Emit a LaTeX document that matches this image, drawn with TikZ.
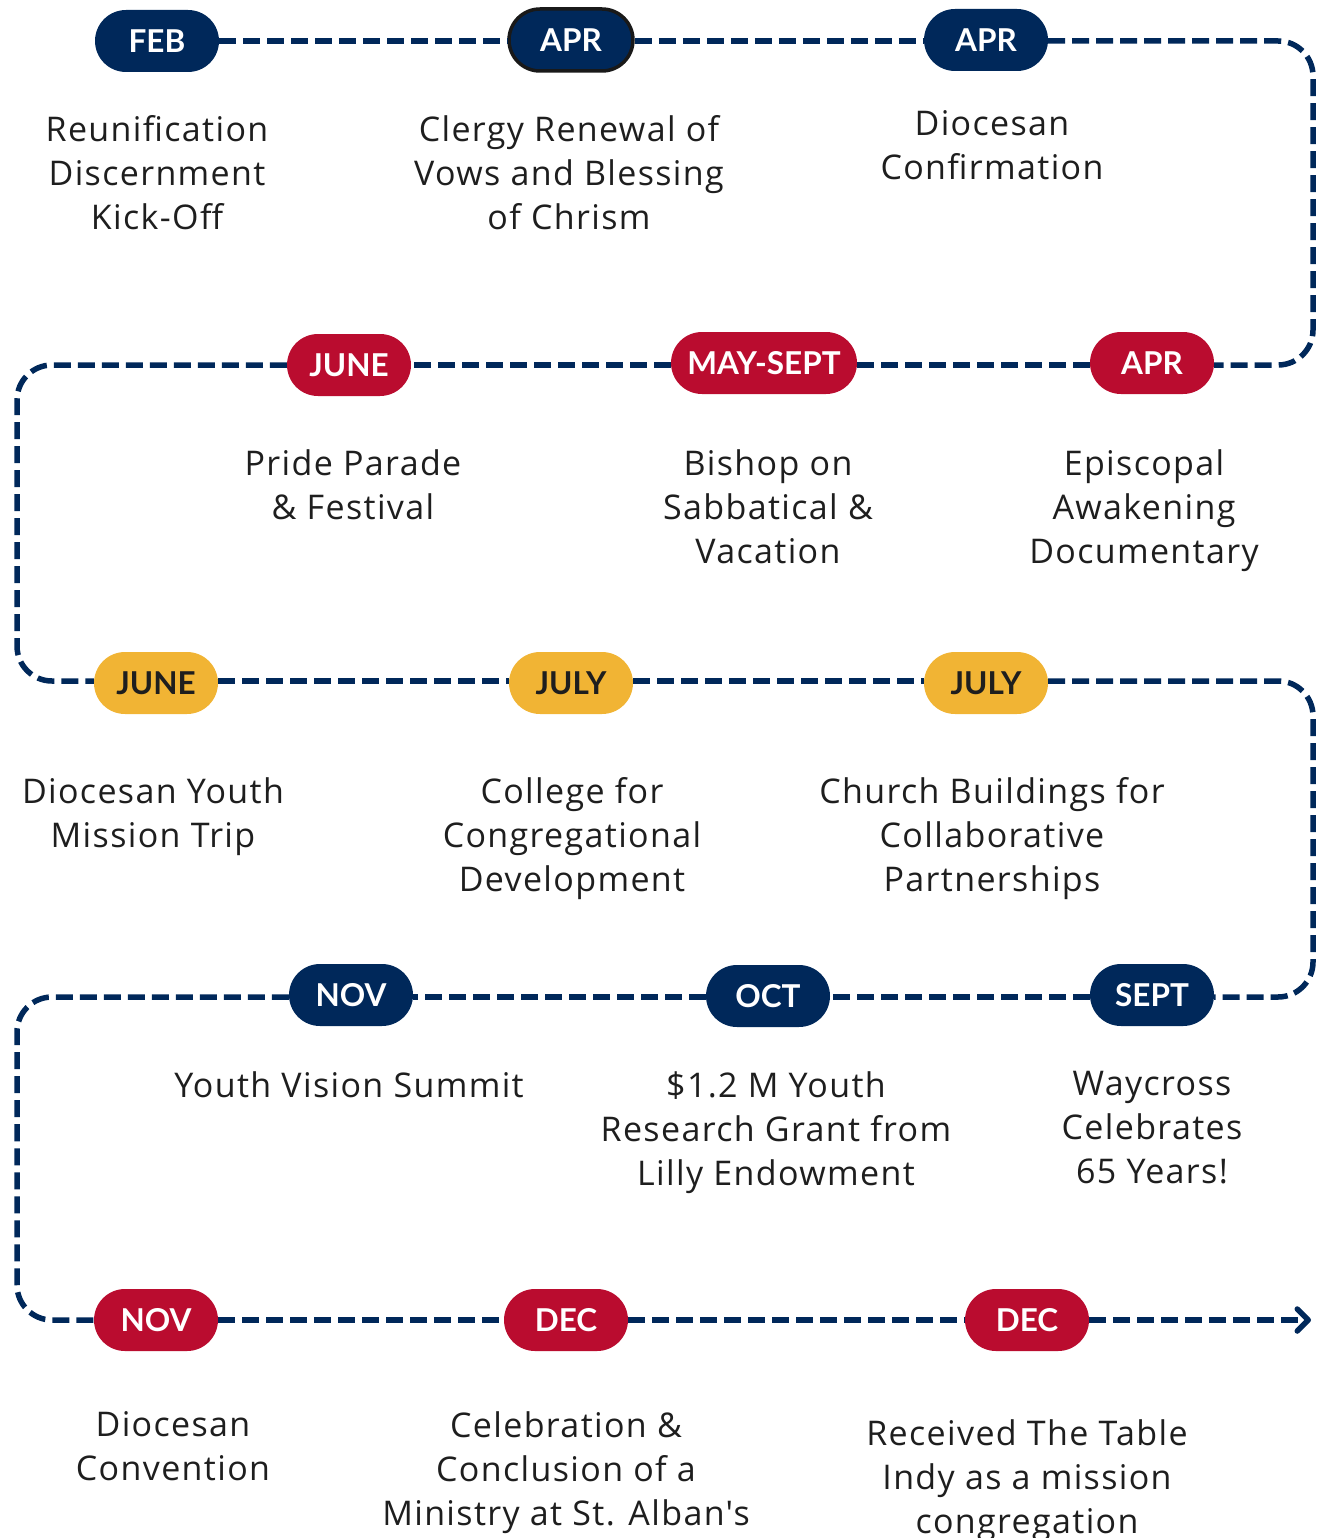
\documentclass[tikz,border=0pt]{standalone}
\usepackage{fontspec}
\setmainfont{Open Sans}
\newfontfamily\labelfont[LetterSpace=4]{Open Sans}
\newfontfamily\pillfont{Lato}
\usetikzlibrary{arrows.meta}
\definecolor{navy}{HTML}{00285A}
\definecolor{crimson}{HTML}{BA0C2F}
\definecolor{gold}{HTML}{F1B434}
\definecolor{textc}{HTML}{1E1E1E}
\tikzset{
  pill/.style={rectangle, rounded corners=31pt, minimum width=124pt, minimum height=62pt, inner sep=0pt, font=\pillfont\fontsize{31.5}{31.5}\bfseries\selectfont},
  navypill/.style={pill, fill=navy, text=white},
  redpill/.style={pill, fill=crimson, text=white},
  goldpill/.style={pill, fill=gold, text=textc},
  evlabel/.style={align=center, anchor=north, inner sep=0pt, font=\labelfont\fontsize{34}{44}\selectfont, text=textc},
  timeline/.style={draw=navy, line width=5.5pt, dash pattern=on 17pt off 7pt, rounded corners=35pt}
}
\begin{document}
\begin{tikzpicture}[x=1pt,y=-1pt]
\useasboundingbox (0,0) rectangle (1324,1538);
% corner coordinates
\coordinate (c1) at (1313,41);
\coordinate (c2) at (1313,365);
\coordinate (c3) at (17,365);
\coordinate (c4) at (17,681);
\coordinate (c5) at (1313,681);
\coordinate (c6) at (1313,997);
\coordinate (c7) at (17,997);
\coordinate (c8) at (17,1320);
\coordinate (tip) at (1311,1320);
% pills
\node[navypill] (p1) at (157,41) {FEB};
\node[navypill, draw=black!90, line width=3.5pt] (p2) at (571,40) {APR};
\node[navypill] (p3) at (986,40) {APR};
\node[redpill] (p4) at (1152,363) {APR};
\node[redpill, minimum width=186pt] (p5) at (764,363) {MAY-SEPT};
\node[redpill] (p6) at (349,365) {JUNE};
\node[goldpill] (p7) at (156,683) {JUNE};
\node[goldpill] (p8) at (571,683) {JULY};
\node[goldpill] (p9) at (986,683) {JULY};
\node[navypill] (p10) at (1152,995) {SEPT};
\node[navypill] (p11) at (768,996) {OCT};
\node[navypill] (p12) at (351,995) {NOV};
\node[redpill] (p13) at (156,1320) {NOV};
\node[redpill] (p14) at (566,1320) {DEC};
\node[redpill] (p15) at (1027,1320) {DEC};
% connectors
\draw[timeline] (p1.east |- 0,41) -- (p2.west |- 0,41);
\draw[timeline] (p2.east |- 0,41) -- (p3.west |- 0,41);
\draw[timeline] (p3.east |- 0,41) -- (c1) -- (c2) -- (p4.east |- 0,365);
\draw[timeline] (p4.west |- 0,365) -- (p5.east |- 0,365);
\draw[timeline] (p5.west |- 0,365) -- (p6.east |- 0,365);
\draw[timeline] (p6.west |- 0,365) -- (c3) -- (c4) -- (p7.west |- 0,681);
\draw[timeline] (p7.east |- 0,681) -- (p8.west |- 0,681);
\draw[timeline] (p8.east |- 0,681) -- (p9.west |- 0,681);
\draw[timeline] (p9.east |- 0,681) -- (c5) -- (c6) -- (p10.east |- 0,997);
\draw[timeline] (p10.west |- 0,997) -- (p11.east |- 0,997);
\draw[timeline] (p11.west |- 0,997) -- (p12.east |- 0,997);
\draw[timeline] (p12.west |- 0,997) -- (c7) -- (c8) -- (p13.west |- 0,1320);
\draw[timeline] (p13.east) -- (p14.west);
\draw[timeline] (p14.east) -- (p15.west);
\draw[timeline, -{Straight Barb[length=11pt,width=22pt,line cap=round,line join=round]}] (p15.east) -- (tip);
% labels
\node[evlabel] (t1) at (157,115) {Reunification\\Discernment\\Kick-Off};
\node[evlabel] (t2) at (569,115) {Clergy Renewal of\\Vows and Blessing\\of Chrism};
\node[evlabel] (t3) at (992,110) {Diocesan\\Confirmation};
\node[evlabel] (t4) at (353,449) {Pride Parade\\\& Festival};
\node[evlabel] (t5) at (768,449) {Bishop on\\Sabbatical \&\\Vacation};
\node[evlabel] (t6) at (1144,449) {Episcopal\\Awakening\\Documentary};
\node[evlabel] (t7) at (153,777) {Diocesan Youth\\Mission Trip};
\node[evlabel] (t8) at (572,777) {College for\\Congregational\\Development};
\node[evlabel] (t9) at (992,777) {Church Buildings for\\Collaborative\\Partnerships};
\node[evlabel] (t10) at (349,1071) {Youth Vision Summit};
\node[evlabel] (t11) at (776,1071) {\$1.2 M Youth\\Research Grant from\\Lilly Endowment};
\node[evlabel] (t12) at (1152,1071) {Waycross\\Celebrates\\65 Years!};
\node[evlabel] (t13) at (173,1411) {Diocesan\\Convention};
\node[evlabel] (t14) at (566,1411) {Celebration \&\\Conclusion of a\\Ministry at St. Alban's};
\node[evlabel] (t15) at (1027,1419) {Received The Table\\Indy as a mission\\congregation};
\end{tikzpicture}
\end{document}
